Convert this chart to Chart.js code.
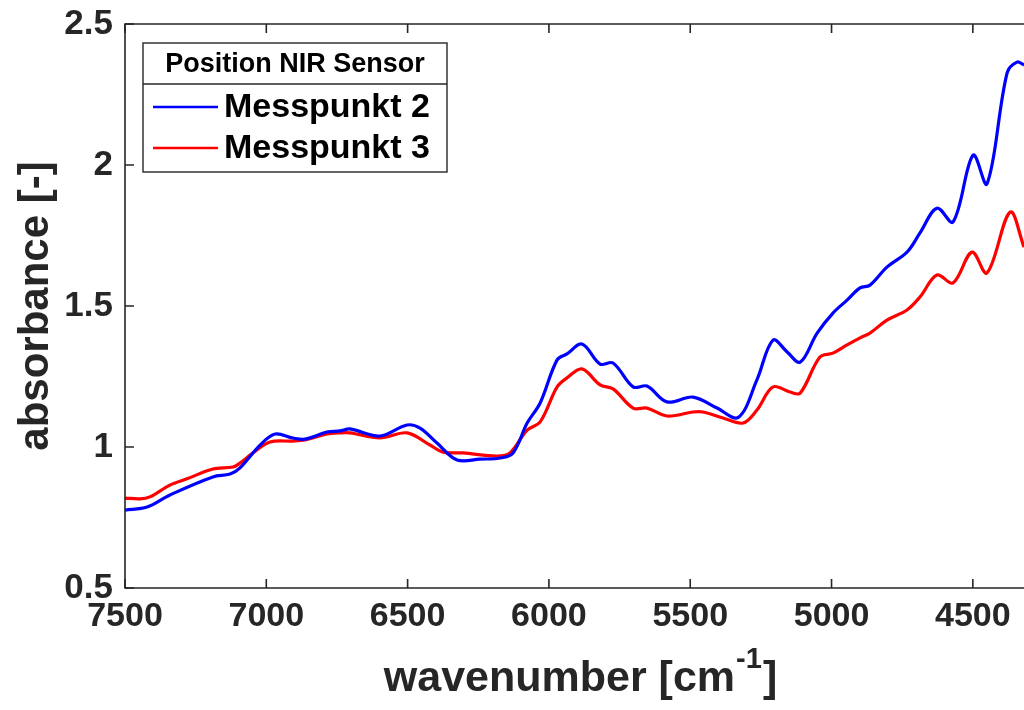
<!DOCTYPE html>
<html>
<head>
  <title>NIR absorbance</title>
  <style>
    body { margin: 0; background: #fff; }
    canvas { display: block; }
  </style>
</head>
<body>
  <canvas id="nirChart" width="1024" height="710"></canvas>

  <script src="https://cdn.jsdelivr.net/npm/chart.js"></script>
  <script>
    // wavenumber [cm^-1] and absorbance for each measuring point
    const wnPoint2 = [7500, 7422, 7341, 7189, 7128, 7093, 7022, 6969, 6906, 6863,
      6785, 6739, 6704, 6598, 6502, 6456, 6396, 6325, 6244, 6173,
      6127, 6077, 6031, 5971, 5936, 5883, 5819, 5773, 5702, 5653,
      5582, 5490, 5405, 5330, 5264, 5207, 5157, 5111, 5051, 4995,
      4945, 4899, 4864, 4804, 4733, 4687, 4627, 4570, 4499, 4450,
      4379, 4344, 4319];
    const absPoint2 = [0.776, 0.787, 0.830, 0.894, 0.904, 0.926, 1.007, 1.046, 1.032, 1.028,
      1.053, 1.057, 1.064, 1.039, 1.078, 1.067, 1.014, 0.954, 0.957, 0.961,
      0.979, 1.085, 1.156, 1.309, 1.330, 1.365, 1.294, 1.298, 1.213, 1.216,
      1.160, 1.177, 1.138, 1.105, 1.238, 1.379, 1.337, 1.301, 1.404, 1.475,
      1.521, 1.564, 1.574, 1.638, 1.691, 1.759, 1.847, 1.798, 2.035, 1.933,
      2.326, 2.365, 2.355];

    const wnPoint3 = [7500, 7447, 7412, 7341, 7281, 7189, 7118, 7093, 7047, 6987,
      6906, 6863, 6785, 6739, 6704, 6598, 6502, 6421, 6375, 6304,
      6184, 6138, 6077, 6031, 5971, 5936, 5883, 5819, 5773, 5702,
      5653, 5582, 5490, 5455, 5384, 5313, 5264, 5207, 5147, 5111,
      5041, 4995, 4945, 4899, 4864, 4804, 4733, 4687, 4627, 4570,
      4503, 4450, 4368, 4319];
    const absPoint3 = [0.819, 0.816, 0.823, 0.865, 0.887, 0.922, 0.929, 0.943, 0.979, 1.018,
      1.021, 1.025, 1.046, 1.050, 1.050, 1.032, 1.050, 1.007, 0.982, 0.979,
      0.968, 0.979, 1.060, 1.089, 1.213, 1.245, 1.277, 1.220, 1.206, 1.138,
      1.138, 1.110, 1.124, 1.124, 1.103, 1.085, 1.131, 1.213, 1.195, 1.191,
      1.319, 1.333, 1.362, 1.387, 1.404, 1.450, 1.486, 1.532, 1.610, 1.582,
      1.691, 1.617, 1.833, 1.709];

    const xTicks = [7500, 7000, 6500, 6000, 5500, 5000, 4500];
    const yTicks = [0.5, 1, 1.5, 2, 2.5];
    const seriesNames = ['Messpunkt 2', 'Messpunkt 3'];
    const legendTitle = 'Position NIR Sensor';

    const ink = '#262626';
    const fontFamily = '"Liberation Sans", Arial, Helvetica, sans-serif';

    function toPoints(xs, ys) {
      return xs.map((x, i) => ({ x: x, y: ys[i] }));
    }

    // box, inward ticks, axis titles and the legend panel
    const matlabFrame = {
      id: 'matlabFrame',
      afterDraw(chart) {
        const ctx = chart.ctx;
        const area = chart.chartArea;
        const xs = chart.scales.x;
        const ys = chart.scales.y;
        const tickLen = 9;

        ctx.save();
        ctx.strokeStyle = ink;
        ctx.lineWidth = 1.6;
        ctx.beginPath();
        ctx.moveTo(area.right + 2, area.top);
        ctx.lineTo(area.left, area.top);
        ctx.lineTo(area.left, area.bottom);
        ctx.lineTo(area.right + 2, area.bottom);
        ctx.stroke();

        ctx.beginPath();
        xTicks.forEach(v => {
          const px = xs.getPixelForValue(v);
          ctx.moveTo(px, area.bottom);
          ctx.lineTo(px, area.bottom - tickLen);
          ctx.moveTo(px, area.top);
          ctx.lineTo(px, area.top + tickLen);
        });
        yTicks.forEach(v => {
          const py = ys.getPixelForValue(v);
          ctx.moveTo(area.left, py);
          ctx.lineTo(area.left + tickLen, py);
        });
        ctx.stroke();

        // x title with superscript
        ctx.fillStyle = ink;
        ctx.textBaseline = 'alphabetic';
        ctx.textAlign = 'left';
        const big = 'bold 43px ' + fontFamily;
        const small = 'bold 29px ' + fontFamily;
        const partA = 'wavenumber [cm';
        const partB = '-1';
        const partC = ']';
        ctx.font = big;
        const wA = ctx.measureText(partA).width;
        const wC = ctx.measureText(partC).width;
        ctx.font = small;
        const wB = ctx.measureText(partB).width;
        const total = wA + wB + wC + 2;
        let tx = (area.left + area.right) / 2 + 6 - total / 2;
        const base = 691;
        ctx.font = big;
        ctx.fillText(partA, tx, base);
        ctx.font = small;
        ctx.fillText(partB, tx + wA + 1, base - 23);
        ctx.font = big;
        ctx.fillText(partC, tx + wA + wB + 2, base);

        // y title
        ctx.save();
        ctx.translate(36, (area.top + area.bottom) / 2);
        ctx.rotate(-Math.PI / 2);
        ctx.textAlign = 'center';
        ctx.textBaseline = 'middle';
        ctx.font = 'bold 42px ' + fontFamily;
        ctx.fillText('absorbance [-]', 0, 0);
        ctx.restore();

        // legend panel
        const lx = 143, ly = 43, lw = 304, lh = 129, sep = 41;
        ctx.fillStyle = '#fff';
        ctx.fillRect(lx, ly, lw, lh);
        ctx.strokeStyle = ink;
        ctx.lineWidth = 1.4;
        ctx.strokeRect(lx, ly, lw, lh);
        ctx.beginPath();
        ctx.moveTo(lx, ly + sep);
        ctx.lineTo(lx + lw, ly + sep);
        ctx.stroke();

        ctx.fillStyle = '#000';
        ctx.textAlign = 'center';
        ctx.textBaseline = 'middle';
        ctx.font = 'bold 27px ' + fontFamily;
        ctx.fillText(legendTitle, lx + lw / 2, ly + sep / 2 + 1);

        chart.data.datasets.forEach((ds, i) => {
          const rowY = ly + sep + 23 + i * 41;
          ctx.strokeStyle = ds.borderColor;
          ctx.lineWidth = 2.5;
          ctx.beginPath();
          ctx.moveTo(lx + 10, rowY);
          ctx.lineTo(lx + 75, rowY);
          ctx.stroke();
          ctx.fillStyle = '#000';
          ctx.textAlign = 'left';
          ctx.font = 'bold 34px ' + fontFamily;
          ctx.fillText(ds.label, lx + 81, rowY + 1);
        });
        ctx.restore();
      }
    };

    new Chart(document.getElementById('nirChart').getContext('2d'), {
      type: 'line',
      data: {
        datasets: [{
          label: seriesNames[0],
          data: toPoints(wnPoint2, absPoint2),
          borderColor: '#0000ff',
          borderWidth: 3.2,
          pointRadius: 0,
          tension: 0.35,
          fill: false
        }, {
          label: seriesNames[1],
          data: toPoints(wnPoint3, absPoint3),
          borderColor: '#ff0000',
          borderWidth: 3.2,
          pointRadius: 0,
          tension: 0.35,
          fill: false
        }]
      },
      options: {
        responsive: false,
        animation: false,
        layout: { padding: { top: 24, right: 0, left: 0, bottom: 0 } },
        plugins: {
          legend: { display: false },
          tooltip: { enabled: false }
        },
        scales: {
          x: {
            type: 'linear',
            reverse: true,
            min: 4319,
            max: 7500,
            grid: { display: false, drawTicks: false },
            border: { display: false },
            afterBuildTicks: scale => {
              scale.ticks = xTicks.map(v => ({ value: v }));
            },
            afterFit: scale => {
              scale.height = 122;
              scale.paddingLeft = 0;
              scale.paddingRight = 0;
            },
            ticks: {
              padding: 8,
              color: ink,
              font: { family: fontFamily, size: 34, weight: 'bold' },
              callback: v => String(v)
            }
          },
          y: {
            min: 0.5,
            max: 2.5,
            grid: { display: false, drawTicks: false },
            border: { display: false },
            afterBuildTicks: scale => {
              scale.ticks = yTicks.map(v => ({ value: v }));
            },
            afterFit: scale => {
              scale.width = 125;
              scale.paddingTop = 0;
              scale.paddingBottom = 0;
            },
            ticks: {
              padding: 12,
              color: ink,
              font: { family: fontFamily, size: 35, weight: 'bold' },
              callback: v => String(v)
            }
          }
        }
      },
      plugins: [matlabFrame]
    });
  </script>
</body>
</html>
